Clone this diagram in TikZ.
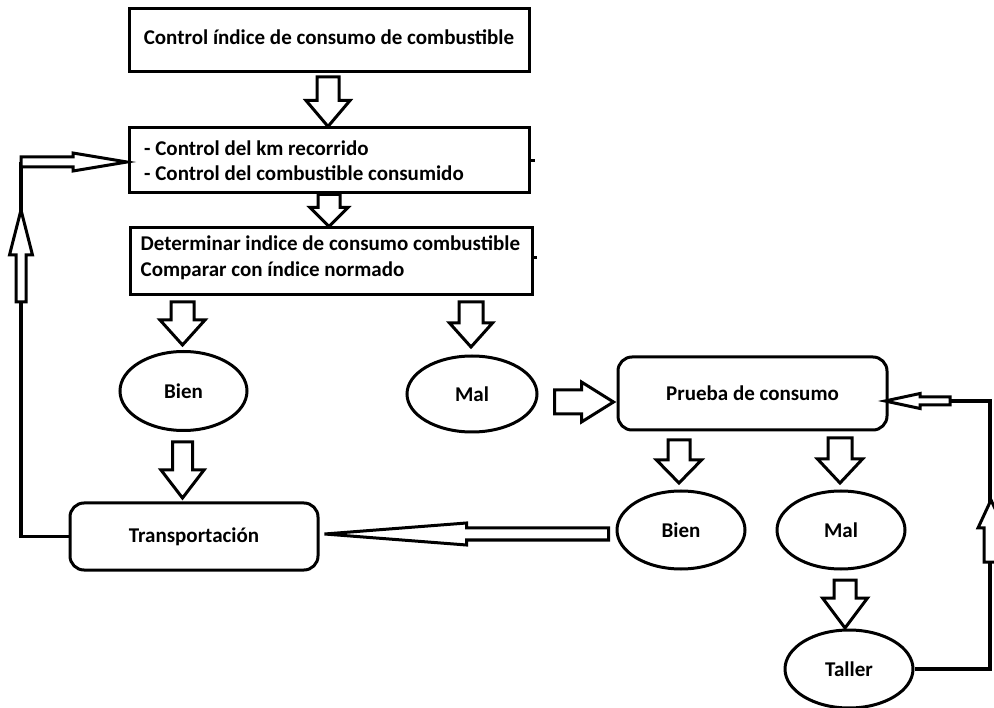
\documentclass[tikz,border=0pt]{standalone}
\usepackage{fontspec}
\setmainfont{Carlito}
\usetikzlibrary{shapes.geometric,calc}

\tikzset{
  box/.style={draw, line width=3pt, rectangle, inner sep=0pt},
  roundbox/.style={draw, line width=3pt, rounded corners=14pt, inner sep=0pt},
  oval/.style={draw, line width=3pt, ellipse, inner sep=0pt},
  txt/.style={font=\fontsize{21}{25.5}\selectfont\bfseries},
  blockarrow/.style={draw, line width=3pt, fill=white, line join=miter},
  loopline/.style={line width=3.5pt},
}

% vertical block arrow: tail point, tip point, head length, shaft half width, head half width
\newcommand\varrow[5]{\draw[blockarrow] let \p1=#1, \p2=#2, \n1={sign(\y2-\y1)} in
  (\x1-#4pt,\y1) -- (\x1-#4pt,\y2-\n1*#3pt) -- (\x1-#5pt,\y2-\n1*#3pt) -- (\x1,\y2)
  -- (\x1+#5pt,\y2-\n1*#3pt) -- (\x1+#4pt,\y2-\n1*#3pt) -- (\x1+#4pt,\y1) -- cycle;}
% horizontal block arrow: tail point, tip point, head length, shaft half width, head half width
\newcommand\harrow[5]{\draw[blockarrow] let \p1=#1, \p2=#2, \n1={sign(\x2-\x1)} in
  (\x1,\y1+#4pt) -- (\x2-\n1*#3pt,\y1+#4pt) -- (\x2-\n1*#3pt,\y1+#5pt) -- (\x2,\y1)
  -- (\x2-\n1*#3pt,\y1-#5pt) -- (\x2-\n1*#3pt,\y1-#4pt) -- (\x1,\y1-#4pt) -- cycle;}

\begin{document}
\begin{tikzpicture}[x=1pt,y=-1pt]
\clip (0,0) rectangle (994,708);
\fill[white] (0,0) rectangle (994,708);

% process boxes
\node[box, minimum width=400pt, minimum height=63pt] (box1) at (329,40) {};
\node[txt, inner sep=0pt] (box1text) at ($(box1.center)+(0,-2.5)$)
  {Control índice de consumo de combustible};
\node[box, minimum width=400pt, minimum height=65pt] (box2) at (329.5,160.5) {};
\node[txt, anchor=west, align=left, inner sep=0pt] (box2text) at ($(box2.west)+(16,0)$)
  {- Control del km recorrido\\- Control del combustible consumido};
\node[box, minimum width=402pt, minimum height=67pt] (box3) at (331,261.5) {};
\node[txt, anchor=west, align=left, inner sep=0pt] (box3text) at ($(box3.west)+(12,-3.5)$)
  {Determinar indice de consumo combustible\\Comparar con índice normado};

% outcomes
\node[oval, txt, minimum width=127pt, minimum height=79pt] (bien1) at (183.5,391) {Bien};
\node[oval, txt, minimum width=130pt, minimum height=76pt] (mal1) at (472,394) {Mal};
\node[roundbox, txt, minimum width=269pt, minimum height=73pt] (prueba) at (752.5,393.5) {Prueba de consumo};
\node[roundbox, txt, minimum width=248pt, minimum height=67pt] (trans) at (194,536.5) {Transportación};
\node[oval, txt, minimum width=128pt, minimum height=78pt] (bien2) at (681,530) {Bien};
\node[oval, txt, minimum width=128pt, minimum height=78pt] (mal2) at (841,530) {Mal};
\node[oval, txt, minimum width=128pt, minimum height=78pt] (taller) at (849,669) {Taller};

% small stubs on the box edges
\draw[line width=3pt] (box2.east) -- ++(4,0);
\draw[line width=3pt] ($(box3.east)+(0,-3.5)$) -- ++(3,0);

% downward block arrows
\varrow{($(box1.south)+(-1,4)$)}{($(box2.north)+(-1,0)$)}{26}{11}{22}
\varrow{($(box2.south)+(-0.5,0)$)}{($(box3.north)+(-2,0)$)}{19}{11}{19}
\varrow{($(bien1.north |- box3.south)+(-1,5.5)$)}{($(bien1.north)+(0,-5)$)}{25}{11.5}{22.5}
\varrow{($(mal1.north |- box3.south)+(-1,5.5)$)}{($(mal1.north)+(0,-7.5)$)}{24}{12}{21.5}
\varrow{($(bien1.south)+(-1,10)$)}{($(trans.north)+(0,-3.5)$)}{28}{10}{21.5}
\varrow{($(bien2.north |- prueba.south)+(-2,8.5)$)}{($(bien2.north)+(0,-6.5)$)}{23}{11}{22.5}
\varrow{($(mal2.north |- prueba.south)+(-1,6.5)$)}{($(mal2.north)+(0,-6.5)$)}{24}{12}{22.5}
\varrow{($(mal2.south)+(4,9.5)$)}{($(taller.north)+(0,-0.5)$)}{30}{11}{22.5}

% Mal -> Prueba de consumo
\harrow{($(mal1.east)+(16,8)$)}{($(prueba.west)+(-3,8.5)$)}{32}{12}{20}

% Bien -> Transportación
\harrow{($(bien2.west)+(-7,4)$)}{($(trans.east)+(5,0)$)}{142}{6}{11}

% return loop on the left
\coordinate (lt) at (21,162);
\draw[loopline] (trans.west) -| (lt);
\varrow{($(lt)+(0,140)$)}{($(lt)+(0,48)$)}{45}{5}{11.5}
\harrow{(lt)}{($(box2.west)+(-1,0)$)}{54}{5}{9}

% return loop on the right
\coordinate (rt) at (990,401);
\draw[loopline] (taller.east) -| (rt) -- ++(-40,0);
\varrow{($(rt)+(1,161)$)}{($(rt)+(1,99)$)}{28}{7}{13}
\harrow{($(rt)+(-40,0)$)}{($(prueba.east)+(-3.5,0)$)}{35}{4}{7.5}
\end{tikzpicture}
\end{document}
